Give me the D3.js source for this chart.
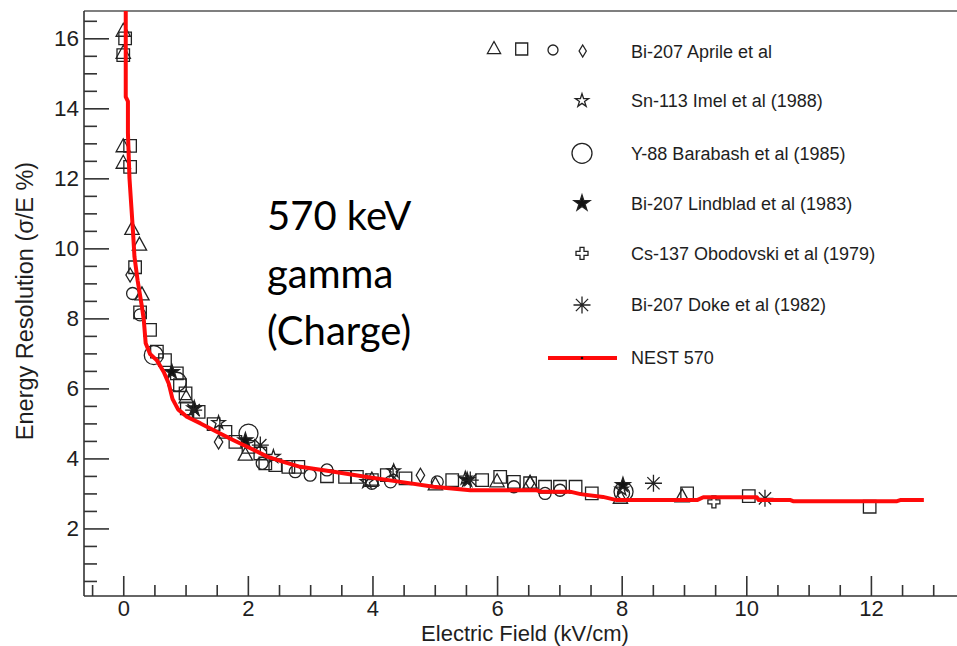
<!DOCTYPE html>
<html><head><meta charset="utf-8">
<script src="https://cdn.jsdelivr.net/npm/d3@7"></script>
<style>
html,body{margin:0;padding:0;background:#fff;}
svg{display:block;}
text{font-family:"Liberation Sans",Arial,sans-serif;fill:#1e1e1e;}
</style></head>
<body>
<svg id="chart" width="957" height="646"></svg>
<script>
// ---------- data ----------
const xMajorTicks = [0, 2, 4, 6, 8, 10, 12];
const yMajorTicks = [2, 4, 6, 8, 10, 12, 14, 16];
const xTitle = "Electric Field (kV/cm)";
const yTitle = "Energy Resolution (σ/E %)";
const annotation = ["570 keV", "gamma", "(Charge)"];

// Bi-207 Aprile et al (four marker styles)
const aprileTriangles = [[0.0,16.2],[0.0,15.57],[0.0,12.9],[0.0,12.43],[0.14,10.54],[0.26,10.09],[0.30,8.67],
  [1.01,5.73],[1.96,4.09],[3.99,3.38],[5.01,3.24],[6.0,3.33],[6.53,3.29],[7.98,2.86],[8.97,2.9]];
const aprileSquares = [[0.03,16.0],[0.0,15.52],[0.11,12.93],[0.11,12.33],[0.19,9.46],[0.27,8.17],[0.43,7.67],
  [0.54,7.05],[0.67,6.81],[0.86,6.43],[0.91,6.09],[1.0,5.86],[1.02,5.43],[1.21,5.33],[1.45,4.98],[1.64,4.76],
  [1.80,4.47],[2.01,4.33],[2.20,4.14],[2.28,3.86],[2.44,3.81],[2.65,3.76],[2.81,3.76],[3.27,3.49],[3.56,3.47],
  [3.75,3.47],[3.99,3.38],[4.23,3.52],[4.53,3.43],[5.28,3.38],[5.76,3.38],[6.05,3.47],[6.27,3.33],[6.53,3.29],
  [6.77,3.19],[7.01,3.19],[7.26,3.19],[7.52,3.0],[9.05,3.0],[10.04,2.92],[11.98,2.62]];
const aprileCircles = [[0.15,8.71],[0.27,8.10],[2.23,3.86],[2.76,3.62],[3.0,3.52],[3.27,3.67],[3.99,3.29],
  [4.29,3.33],[5.04,3.33],[6.27,3.19],[6.77,3.0],[7.01,3.09],[8.03,3.0]];
const aprileDiamonds = [[0.11,9.24],[1.53,4.47],[4.34,3.62],[4.77,3.52],[6.53,3.29]];
const imel = [[1.53,5.02],[2.41,4.05],[3.91,3.33],[4.34,3.64],[5.49,3.43],[8.0,3.12]];
const barabash = [[0.49,6.95],[0.86,6.19],[2.01,4.71],[8.03,3.05]];
const lindblad = [[0.78,6.47],[1.14,5.43],[1.96,4.52],[5.52,3.38],[8.02,3.24]];
const obodovski = [[9.48,2.76]];
const doke = [[1.13,5.38],[2.20,4.38],[5.57,3.38],[8.51,3.29],[10.30,2.86]];
// NEST 570 simulation curve
const nest = [[0.04,17.2],[0.04,14.33],[0.075,14.2],[0.075,13.3],[0.10,12.0],[0.13,11.19],[0.155,10.52],
  [0.18,9.76],[0.23,9.09],[0.30,8.33],[0.33,7.95],[0.36,7.29],[0.43,6.98],[0.54,6.8],[0.65,6.47],[0.73,6.14],
  [0.79,5.7],[0.88,5.4],[1.02,5.19],[1.24,5.0],[1.5,4.76],[1.77,4.52],[2.04,4.29],[2.31,4.05],[2.57,3.9],
  [2.84,3.76],[3.38,3.62],[3.91,3.47],[4.45,3.33],[4.98,3.19],[5.57,3.09],[6.64,3.09],[6.7,3.05],[7.17,3.05],
  [7.34,2.98],[7.7,2.9],[7.92,2.81],[9.21,2.81],[9.31,2.89],[10.17,2.89],[10.2,2.81],[10.71,2.81],[10.75,2.78],
  [12.42,2.78],[12.47,2.81],[12.85,2.81]];

const legendLabels = ["Bi-207 Aprile et al","Sn-113 Imel et al (1988)","Y-88 Barabash et al (1985)",
  "Bi-207 Lindblad et al (1983)","Cs-137 Obodovski et al (1979)","Bi-207 Doke et al (1982)","NEST 570"];

// ---------- layout ----------
const svg = d3.select("#chart");
const L = 84, R = 960, T = 11, B = 596;
const x = d3.scaleLinear().domain([-0.63, 13.43]).range([L, R]);
const y = d3.scaleLinear().domain([0.07, 16.78]).range([B, T]);
const axisColor = "#333";

svg.append("defs").append("clipPath").attr("id","plotclip")
  .append("rect").attr("x",L).attr("y",T).attr("width",R-L).attr("height",B-T);

// frame top line
svg.append("line").attr("x1",L).attr("x2",R).attr("y1",T).attr("y2",T)
  .attr("stroke","#555").attr("stroke-width",1.6);

function minorVals(lo, hi) {
  const v = [];
  for (let t = lo; t <= hi + 1e-9; t += 0.5) if (Math.abs(t/2 - Math.round(t/2)) > 1e-6) v.push(+t.toFixed(2));
  return v;
}

// Y axis
const gy = svg.append("g").attr("transform",`translate(${L},0)`);
gy.call(d3.axisLeft(y).tickValues(yMajorTicks).tickSize(-25).tickPadding(5).tickFormat(d3.format("d")));
const gyMinor = svg.append("g").attr("transform",`translate(${L},0)`);
gyMinor.call(d3.axisLeft(y).tickValues(minorVals(0.5,16.5)).tickSize(-13).tickFormat(""));
// X axis
const gx = svg.append("g").attr("transform",`translate(0,${B})`);
gx.call(d3.axisBottom(x).tickValues(xMajorTicks).tickSize(-20).tickPadding(4).tickFormat(d3.format("d")));
const gxMinor = svg.append("g").attr("transform",`translate(0,${B})`);
gxMinor.call(d3.axisBottom(x).tickValues(minorVals(-0.5,13.0)).tickSize(-11).tickFormat(""));

[gy,gyMinor,gx,gxMinor].forEach(g => {
  g.selectAll(".domain").attr("stroke",axisColor).attr("stroke-width",1.6);
  g.selectAll(".tick line").attr("stroke",axisColor).attr("stroke-width",1.6);
  g.selectAll("text").style("font-family","'Liberation Sans',Arial,sans-serif")
    .style("font-size","22.5px").attr("fill","#1e1e1e");
});
gx.selectAll("text").style("font-size","22px");
gyMinor.select(".domain").remove(); gxMinor.select(".domain").remove();
gx.select(".domain").attr("d",`M${L},0H${R}`);
gy.select(".domain").attr("d",`M0,${T}V${B}`);

// axis titles
svg.append("text").attr("x",525).attr("y",641).attr("text-anchor","middle")
  .style("font-size","22px").text(xTitle);
svg.append("text").attr("transform","translate(33,301) rotate(-90)").attr("text-anchor","middle")
  .style("font-size","23.5px").text(yTitle);

// annotation
const ann = svg.append("text").attr("x",267).attr("y",230)
  .style("font-family","Lato,'Open Sans',sans-serif").style("font-size","40px").style("fill","#000");
annotation.forEach((t,i) => ann.append("tspan").attr("x",267).attr("y",230 + i*57.5).text(t));

// ---------- marker shapes ----------
const shapes = {
  tri: s => `M0,${-s*0.62}L${s*0.55},${s*0.38}L${-s*0.55},${s*0.38}Z`,
  sq: s => `M${-s/2},${-s/2}h${s}v${s}h${-s}Z`,
  circ: s => `M${s/2},0A${s/2},${s/2} 0 1 1 ${-s/2},0A${s/2},${s/2} 0 1 1 ${s/2},0Z`,
  diam: s => `M0,${-s/2}L${s*0.3},0L0,${s/2}L${-s*0.3},0Z`,
  cross: s => { const a = s/2, b = s/6; return `M${-b},${-a}H${b}V${-b}H${a}V${b}H${b}V${a}H${-b}V${b}H${-a}V${-b}H${-b}Z`; },
  aster: s => { const a = s/2, d = a*0.72; return `M${-a},0H${a}M0,${-a}V${a}M${-d},${-d}L${d},${d}M${-d},${d}L${d},${-d}`; },
  star: s => d3.symbol(d3.symbolStar, s*s*0.55)()
};

const plot = svg.append("g").attr("clip-path","url(#plotclip)");
function drawSeries(data, shape, size, fill) {
  plot.selectAll(null).data(data).enter().append("path")
    .attr("transform", d => `translate(${x(d[0])},${y(d[1])})`)
    .attr("d", shapes[shape](size))
    .attr("fill", fill ? "#111" : "none")
    .attr("stroke", "#222").attr("stroke-width", 1.3);
}
drawSeries(aprileSquares, "sq", 12.5, false);
drawSeries(aprileTriangles, "tri", 13, false);
drawSeries(aprileCircles, "circ", 12, false);
drawSeries(aprileDiamonds, "diam", 14, false);
drawSeries(barabash, "circ", 19, false);
drawSeries(imel, "star", 10, false);
drawSeries(lindblad, "star", 11, true);
drawSeries(obodovski, "cross", 12, false);
drawSeries(doke, "aster", 17, false);

// NEST curve
plot.append("path").datum(nest)
  .attr("d", d3.line().x(d => x(d[0])).y(d => y(d[1])))
  .attr("fill","none").attr("stroke","#ff0a0a").attr("stroke-width",4).attr("stroke-linejoin","round");

// ---------- legend ----------
const legX = 631, mkX = 582;
const rowY = [51.7, 100.7, 153.3, 203.3, 253.3, 305, 358];
const lg = svg.append("g");
legendLabels.forEach((t,i) => {
  lg.append("text").attr("x",legX).attr("y",rowY[i]).attr("dy","0.35em")
    .style("font-size","18px").text(t);
});
function legMarker(cx, cy, shape, size, fill) {
  lg.append("path").attr("transform",`translate(${cx},${cy})`).attr("d",shapes[shape](size))
    .attr("fill", fill ? "#111" : "none").attr("stroke","#222").attr("stroke-width",1.3);
}
legMarker(494, 49, "tri", 12, false);
legMarker(521.7, 49, "sq", 12, false);
legMarker(553, 50, "circ", 10, false);
legMarker(582.7, 51, "diam", 12, false);
legMarker(mkX, rowY[1], "star", 10, false);
legMarker(mkX, rowY[2], "circ", 20, false);
legMarker(mkX, rowY[3], "star", 12, true);
legMarker(mkX, rowY[4], "cross", 12, false);
legMarker(mkX, rowY[5], "aster", 17, false);
lg.append("line").attr("x1",548).attr("x2",617).attr("y1",rowY[6]).attr("y2",rowY[6])
  .attr("stroke","#ff0a0a").attr("stroke-width",4);
lg.append("circle").attr("cx",mkX).attr("cy",rowY[6]).attr("r",1.3).attr("fill","#111");
</script>
</body></html>
